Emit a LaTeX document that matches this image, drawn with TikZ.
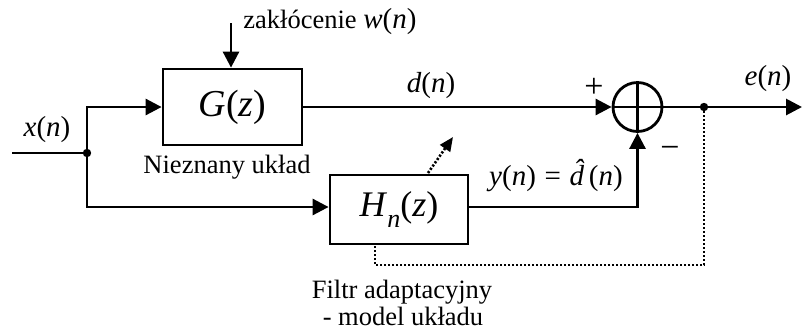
\documentclass[tikz,border=0pt]{standalone}
\usepackage{fontspec}
\setmainfont{Liberation Serif}
\usetikzlibrary{arrows.meta}
\begin{document}
\tikzset{
  line/.style={line width=1.4pt},
  arr/.style={line, -{Triangle[length=8pt,width=8pt]}},
  blk/.style={draw, line width=1.4pt, rectangle, inner sep=0pt},
  dotl/.style={line width=1.3pt, dash pattern=on 1.1pt off 0.9pt},
  lbl/.style={inner sep=0pt, font=\fontsize{13.25}{16}\selectfont},
  mlbl/.style={inner sep=0pt, font=\fontsize{14.5}{17}\selectfont},
  sgn/.style={inner sep=0pt, font=\fontsize{17}{20}\selectfont},
  jdot/.style={circle, fill, inner sep=0pt, minimum size=4.2pt}
}
\begin{tikzpicture}[x=0.5pt,y=-0.5pt]
\useasboundingbox (0,0) rectangle (802,328);
\node[blk, minimum width=69.5pt, minimum height=38pt, font=\fontsize{19}{22}\selectfont] (G) at (232.5,107) {\textit{G}(\textit{z})};
\node[blk, minimum width=69pt, minimum height=34.5pt, font=\fontsize{18}{21}\selectfont] (H) at (399,209.5) {\textit{H}\raisebox{-0.3em}{\fontsize{13}{13}\selectfont\textit{n}}(\textit{z})};
\node[circle, draw, line width=1.4pt, minimum size=24.5pt, inner sep=0pt] (S) at (637.5,107) {};
\draw[line] (S.north) -- (S.south) (S.west) -- (S.east);
\coordinate (in) at (12,153);
\node[jdot] (J1) at (87,153) {};
\coordinate (J2) at (87,207);
\node[jdot] (J3) at (704,107) {};
\coordinate (out) at (802,107);
\coordinate (w) at (231,23);
\coordinate (fb) at (375,265);
\coordinate (da1) at (428,173);
\coordinate (da2) at (453,137);

\draw[line] (in) -- (J1.center);
\draw[arr] (J1.center) |- (G.west);
\draw[arr] (J1.center) -- (J2) -- (J2 -| H.west);
\draw[arr] (w) -- (w |- G.north);
\draw[arr] (G.east) -- (S.west);
\draw[arr] (J2 -| H.east) -| (S.south);
\draw[arr] (S.east) -- (out);
\draw[dotl] (J3.center) |- (fb) -- (fb |- H.south);
\draw[dotl, -{Triangle[length=7pt,width=6pt]}] (da1) -- (da2);

\node[lbl, anchor=base west] (wl) at (243,28) {zakłócenie {\fontsize{14.5}{17}\selectfont\textit{w}(\textit{n})}};
\node[mlbl, anchor=base] (xl) at (47,136) {\textit{x}(\textit{n})};
\node[lbl, anchor=base] (nl) at (227,173) {Nieznany układ};
\node[mlbl, anchor=base] (dl) at (431,92) {\textit{d}(\textit{n})};
\node[sgn] (pl) at (594,88) {+};
\node[sgn] (ml) at (670,152) {−};
\node[mlbl, anchor=base] (el) at (768,85) {\textit{e}(\textit{n})};
\node[mlbl, anchor=base] (yl) at (556,185) {\textit{y}(\textit{n})\hspace{0.3em}=\hspace{0.3em}{\itshape\accent"02C6 d}\,(\textit{n})};
\node[lbl, anchor=base] (f1) at (402,298) {Filtr adaptacyjny};
\node[lbl, anchor=base] (f2) at (403,325) {- model układu};
\end{tikzpicture}
\end{document}
